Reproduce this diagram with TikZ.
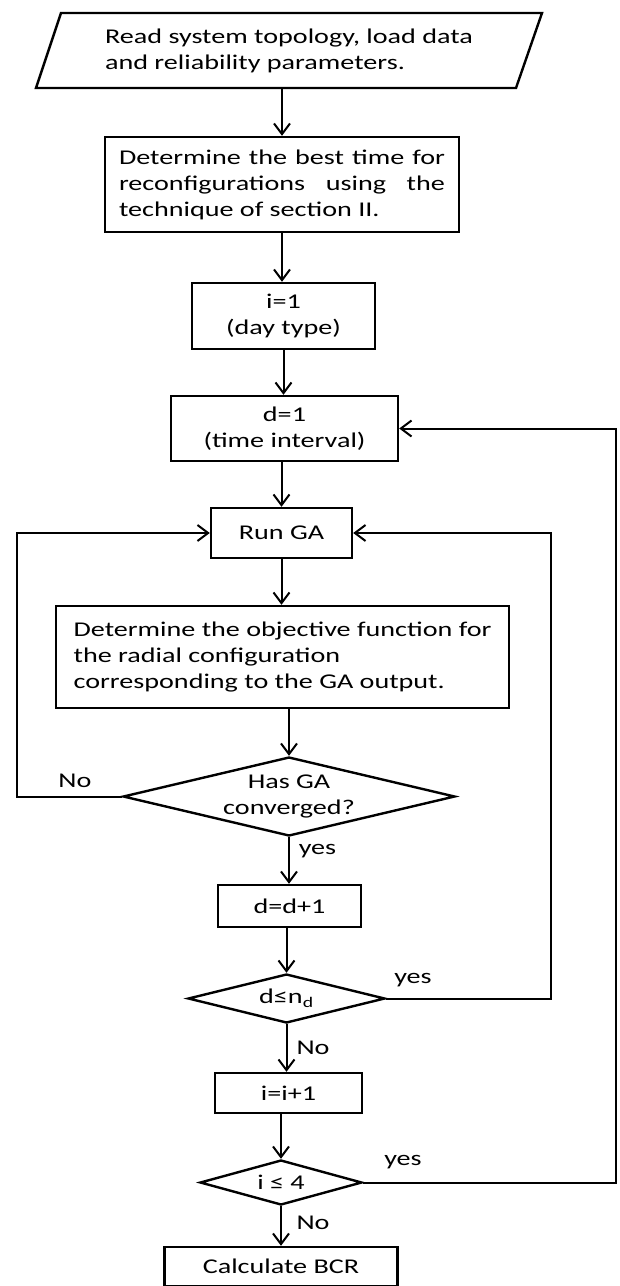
\documentclass[tikz,border=0pt]{standalone}
\usepackage{fontspec}
\setmainfont{Carlito}[FakeStretch=1.34]
\usetikzlibrary{arrows.meta,shapes.geometric}
\begin{document}
\begin{tikzpicture}[x=0.75pt,y=-0.75pt,
  font=\fontsize{15.75pt}{19.5pt}\selectfont,
  box/.style={draw, line width=1.8pt, inner sep=0pt, align=center},
  dia/.style={draw, diamond, line width=1.8pt, inner sep=0pt},
  conn/.style={line width=1.5pt, -{Straight Barb[length=8pt,width=12pt,line width=1.5pt]}},
  lbl/.style={inner sep=0pt}]
\useasboundingbox (0,0) rectangle (620,1286);

% input parallelogram
\draw[line width=1.8pt] (61,13) -- (542,13) -- (516,88) -- (36,88) -- cycle;
\node[inner sep=0pt, minimum width=379.5pt, minimum height=56.25pt, align=left] (read) at (289,50.5)
  {Read system topology, load data\\and reliability parameters.};

\node[box, minimum width=265.5pt, minimum height=71.25pt, align=left] (det) at (282,184.5)
  {\makebox[244.5pt][s]{Determine the best time for}\\
   \makebox[244.5pt][s]{reconfigurations using the}\\
   technique of section II.};
\node[box, minimum width=137.25pt, minimum height=49.5pt] (i1) at (283.5,316) {i=1\\(day type)};
\node[box, minimum width=170.25pt, minimum height=48.75pt] (d1) at (284.5,428.5) {d=1\\(time interval)};
\node[box, minimum width=105.75pt, minimum height=37.5pt] (runga) at (281.5,533) {Run GA};
\node[box, minimum width=339.75pt, minimum height=76.5pt, align=left] (obj) at (282.5,657)
  {Determine the objective function for\\the radial configuration\\corresponding to the GA output.};
\node[dia, minimum width=249pt, minimum height=59.25pt] (conv) at (289,796.5) {};
\node[lbl, align=center] at (conv) {Has GA\\converged?};
\node[box, minimum width=107.25pt, minimum height=31.5pt] (dd) at (289.5,906) {d=d+1};
\node[dia, minimum width=147.75pt, minimum height=36.75pt] (dle) at (286.5,998.5) {};
\node[lbl] at (dle) {d≤n\textsubscript{d}};
\node[box, minimum width=110.25pt, minimum height=30pt] (ii) at (288.5,1093) {i=i+1};
\node[dia, minimum width=121.5pt, minimum height=33.75pt] (ile) at (281,1182.5) {};
\node[lbl] at (ile) {i ≤ 4};
\node[box, minimum width=174.75pt, minimum height=29.25pt] (bcr) at (281,1266.5) {Calculate BCR};

% loop guide coordinates
\coordinate (lx) at (17,0);
\coordinate (rx) at (551,0);
\coordinate (fx) at (616,0);

% main flow
\draw[conn] (det.north |- read.south) -- (det.north);
\draw[conn] (det.south) -- (det.south |- i1.north);
\draw[conn] (i1.south) -- (i1.south |- d1.north);
\draw[conn] (runga.north |- d1.south) -- (runga.north);
\draw[conn] (runga.south) -- (runga.south |- obj.north);
\draw[conn] (conv.north |- obj.south) -- (conv.north);
\draw[conn] (conv.south) -- (conv.south |- dd.north);
\draw[conn] (dle.north |- dd.south) -- (dle.north);
\draw[conn] (dle.south) -- (dle.south |- ii.north);
\draw[conn] (ile.north |- ii.south) -- (ile.north);
\draw[conn] (ile.south) -- (ile.south |- bcr.north);

% loops
\draw[conn] (conv.west) -- (conv.west -| lx) -- (runga.west -| lx) -- (runga.west);
\draw[conn] (dle.east) -- (dle.east -| rx) -- (runga.east -| rx) -- (runga.east);
\draw[conn] (ile.east) -- (ile.east -| fx) -- (d1.east -| fx) -- (d1.east);

% labels
\node[lbl] (noA) at (75,781) {No};
\node[lbl] (yesA) at (317.5,851) {yes};
\node[lbl] (yesB) at (413,980) {yes};
\node[lbl] (noB) at (313,1048) {No};
\node[lbl] (yesC) at (403,1162) {yes};
\node[lbl] (noC) at (313,1223) {No};
\end{tikzpicture}
\end{document}
